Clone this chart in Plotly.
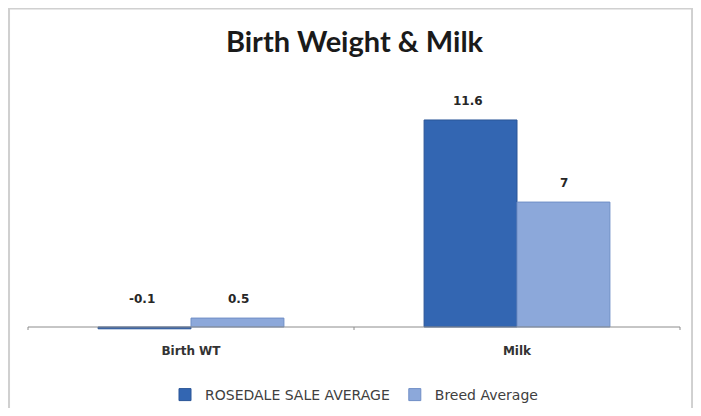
import plotly.graph_objects as go

categories = ["Birth WT", "Milk"]
series_names = ["ROSEDALE SALE AVERAGE", "Breed Average"]
rosedale = [-0.1, 11.6]
breed = [0.5, 7]
label_text_rosedale = ["-0.1", "11.6"]
label_text_breed = ["0.5", "7"]

colors = ["#3366B2", "#8CA8DA"]
line_colors = ["#2A5597", "#6F8EC6"]

fig = go.Figure()
for name, vals, c, lc in zip(series_names, [rosedale, breed], colors, line_colors):
    fig.add_trace(go.Bar(
        x=categories, y=vals, name=name,
        marker=dict(color=c, line=dict(color=lc, width=1)),
    ))

# data labels
for vals, texts, shift in [(rosedale, label_text_rosedale, -49), (breed, label_text_breed, 47)]:
    for cat, v, t in zip(categories, vals, texts):
        fig.add_annotation(
            x=cat, y=max(v, 0), xref="x", yref="y", text=t, showarrow=False,
            xshift=shift, yshift=(10 if v > 0 else 19), yanchor="bottom",
            font=dict(family="DejaVu Sans", size=12, color="#262626", weight="bold"),
        )

# category axis line at zero with boundary ticks
fig.add_shape(type="line", xref="paper", yref="y", x0=0, x1=1, y0=0, y1=0,
              line=dict(color="#8C8C8C", width=1))
for xp in [0, 0.5, 1]:
    fig.add_shape(type="line", xref="paper", yref="y", x0=xp, x1=xp, y0=0, y1=-0.3,
                  line=dict(color="#8C8C8C", width=1))

# chart border
fig.add_shape(type="rect", xref="paper", yref="paper",
              x0=-0.0291, x1=1.0185, y0=-0.42, y1=1.286,
              line=dict(color="#D0D0D0", width=2), layer="below")

fig.update_layout(
    width=693, height=400,
    margin=dict(l=20, r=21, t=72, b=78, autoexpand=False),
    paper_bgcolor="white", plot_bgcolor="white",
    barmode="group", bargap=0.43, bargroupgap=0,
    title=dict(text="<b>Birth Weight & Milk</b>", x=0.5, xanchor="center",
               y=1 - 34 / 400, yanchor="middle",
               font=dict(family="Lato", size=29, color="#1A1A1A")),
    xaxis=dict(showgrid=False, showline=False, ticks="", ticklabelstandoff=12,
               automargin=False,
               tickfont=dict(family="DejaVu Sans", size=12, color="#333333", weight="bold")),
    yaxis=dict(range=[-0.168, 13.84], visible=False, showgrid=False, zeroline=False),
    legend=dict(orientation="h", x=0.5, xanchor="center", y=-0.26, yanchor="middle",
                font=dict(family="DejaVu Sans", size=14, color="#404040"),
                itemwidth=30, traceorder="normal"),
    showlegend=True,
)

fig.write_html("out.html")
